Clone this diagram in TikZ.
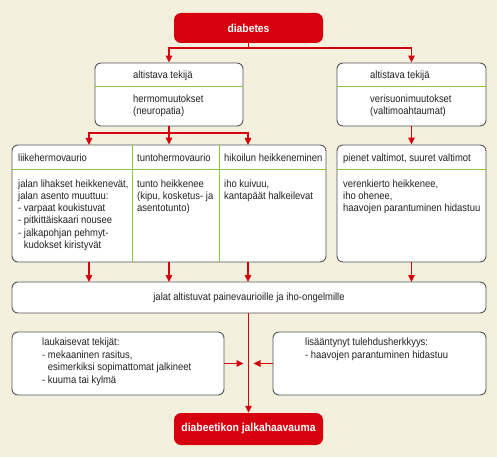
\documentclass[tikz,border=0pt]{standalone}
\usepackage{fontspec}
\setmainfont{Liberation Sans}[FakeStretch=0.9]
\usetikzlibrary{arrows.meta}
\definecolor{bgc}{HTML}{F3F0DE}
\definecolor{redc}{HTML}{D7000F}
\definecolor{borderc}{HTML}{555555}
\definecolor{greenc}{HTML}{8CC63F}
\definecolor{textc}{HTML}{222222}
\tikzset{
  whitebox/.style={draw=borderc, line width=0.9pt, fill=white, rounded corners=6pt, inner sep=0pt},
  redbox/.style={fill=redc, rounded corners=7pt, inner sep=0pt, text=white, font=\fontsize{11.5}{13}\selectfont\bfseries},
  rl/.style={draw=redc, line width=1.1pt},
  rla/.style={rl, -{Triangle[length=7pt,width=6.5pt]}},
  divider/.style={draw=greenc, line width=0.9pt},
  txt/.style={anchor=north west, inner sep=0pt, align=left, font=\fontsize{10.5}{12.2}\selectfont, text=textc, execute at begin node=\strut},
  txtwide/.style={txt, font=\fontsize{10.5}{12.7}\selectfont}
}
\begin{document}
\begin{tikzpicture}[x=1pt,y=-1pt]
\fill[bgc] (0,0) rectangle (497,457);
\useasboundingbox (0,0) rectangle (497,457);

% boxes
\node[redbox, minimum width=149pt, minimum height=30pt] (diab) at (248.5,28) {diabetes};
\node[whitebox, minimum width=148pt, minimum height=63pt] (lf) at (169,94.5) {};
\node[whitebox, minimum width=149pt, minimum height=63pt] (rf) at (411.5,94.5) {};
\node[whitebox, minimum width=314pt, minimum height=117pt] (nb) at (169,203.5) {};
\node[whitebox, minimum width=149pt, minimum height=117pt] (vb) at (411.5,203.5) {};
\node[whitebox, minimum width=474pt, minimum height=31pt, font=\fontsize{10.5}{12.2}\selectfont, text=textc] (jb) at (249,297.5) {jalat altistuvat painevaurioille ja iho-ongelmille};
\node[whitebox, minimum width=212pt, minimum height=63pt] (lb) at (118,363.5) {};
\node[whitebox, minimum width=213pt, minimum height=63pt] (tb) at (379.5,363.5) {};
\node[redbox, minimum width=149pt, minimum height=32pt] (ulc) at (248.5,429) {diabeetikon jalkahaavauma};

% dividers
\draw[divider] (lf.west |- 0,86) -- (lf.east |- 0,86);
\draw[divider] (rf.west |- 0,86) -- (rf.east |- 0,86);
\draw[divider] (nb.west |- 0,169) -- (nb.east |- 0,169);
\draw[divider] (vb.west |- 0,169) -- (vb.east |- 0,169);
\draw[divider] (nb.north -| 132,0) -- (nb.south -| 132,0);
\draw[divider] (nb.north -| 219,0) -- (nb.south -| 219,0);

% texts
\node[txt] (lf1) at (133,69.5) {altistava tekijä};
\node[txt] (lf2) at (133,94.5) {hermomuutokset\\(neuropatia)};
\node[txt] (rf1) at (370,69.5) {altistava tekijä};
\node[txt] (rf2) at (370,94.5) {verisuonimuutokset\\(valtimoahtaumat)};

\node[txt] (h1) at (18,152.5) {liikehermovaurio};
\node[txt] (h2) at (137,152.5) {tuntohermovaurio};
\node[txt] (h3) at (224,152.5) {hikoilun heikkeneminen};
\node[txt] (h4) at (343,152.5) {pienet valtimot, suuret valtimot};

\node[txt] (b1) at (18,179.5) {jalan lihakset heikkenevät,\\jalan asento muuttuu:\\- varpaat koukistuvat\\- pitkittäiskaari nousee\\- jalkapohjan pehmyt-\\\hphantom{-~}kudokset kiristyvät};
\node[txt] (b2) at (137,179.5) {tunto heikkenee\\(kipu, kosketus- ja\\asentotunto)};
\node[txt] (b3) at (224,179.5) {iho kuivuu,\\kantapäät halkeilevat};
\node[txt] (b4) at (343,179.5) {verenkierto heikkenee,\\iho ohenee,\\haavojen parantuminen hidastuu};

\node[txtwide] (lbt) at (42,337.5) {laukaisevat tekijät:\\- mekaaninen rasitus,\\\hphantom{-~}esimerkiksi sopimattomat jalkineet\\- kuuma tai kylmä};
\node[txtwide] (tbt) at (305,337.5) {lisääntynyt tulehdusherkkyys:\\- haavojen parantuminen hidastuu};

% connectors
\coordinate (j1) at (248.5,48);
\draw[rl] (diab.south) -- (j1);
\draw[rla] (j1) -| (lf.north);
\draw[rla] (j1) -| (rf.north);

\coordinate (j2) at (169,133);
\coordinate (n1) at (89,145);
\coordinate (n3) at (248,145);
\draw[rl] (lf.south) -- (j2);
\draw[rla] (j2) -| (n1);
\draw[rla] (j2) -- (nb.north);
\draw[rla] (j2) -| (n3);
\draw[rla] (rf.south) -- (vb.north);

\coordinate (s1) at (89,262);
\coordinate (s2) at (169,262);
\coordinate (s3) at (248,262);
\coordinate (t1) at (89,282);
\coordinate (t2) at (169,282);
\coordinate (t3) at (248,282);
\coordinate (t4) at (411.5,282);
\draw[rla] (s1) -- (t1);
\draw[rla] (s2) -- (t2);
\draw[rla] (s3) -- (t3);
\draw[rla] (vb.south) -- (t4);

\coordinate (m1) at (248.5,313);
\draw[rla] (m1) -- (ulc.north);
\coordinate (a1) at (243.5,363.5);
\coordinate (a2) at (253.5,363.5);
\draw[rla] (lb.east) -- (a1);
\draw[rla] (tb.west) -- (a2);
\end{tikzpicture}
\end{document}
